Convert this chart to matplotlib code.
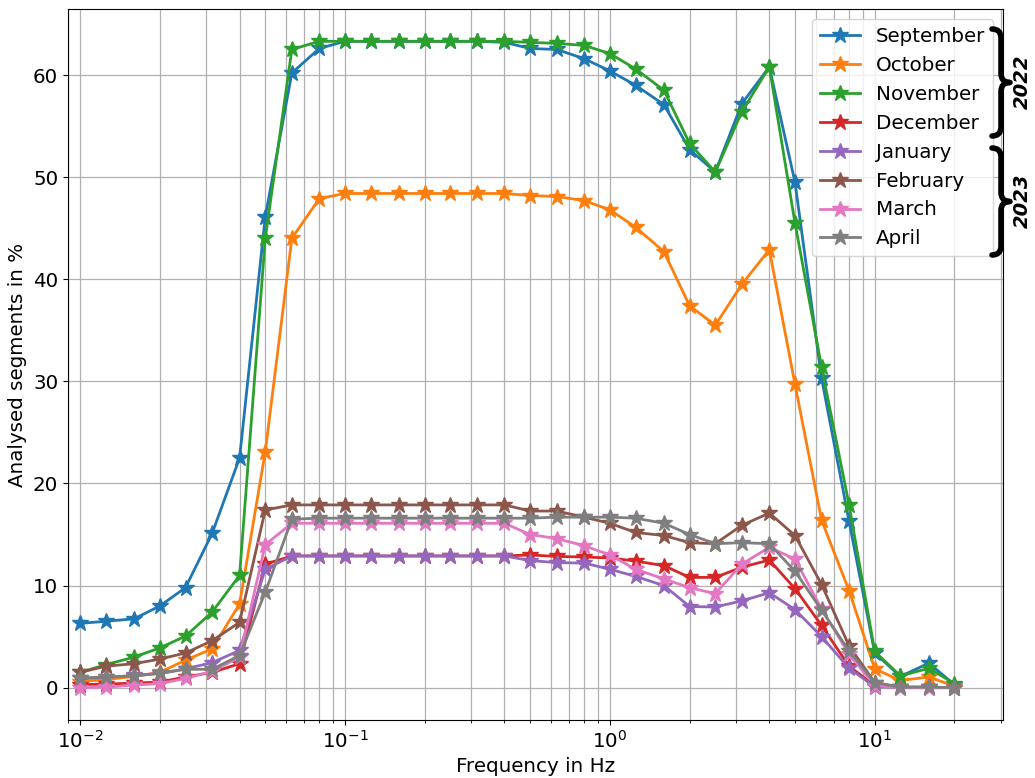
import matplotlib
matplotlib.use("Agg")
import matplotlib.pyplot as plt
from matplotlib.path import Path
from matplotlib.patches import PathPatch

freqs = [0.01, 0.0125, 0.016, 0.02, 0.025, 0.0315, 0.04, 0.05, 0.063, 0.08,
         0.1, 0.125, 0.16, 0.2, 0.25, 0.315, 0.4, 0.5, 0.63, 0.8,
         1.0, 1.25, 1.6, 2.0, 2.5, 3.15, 4.0, 5.0, 6.3, 8.0,
         10.0, 12.5, 16.0, 20.0]

september = [6.3, 6.5, 6.75, 8.0, 9.8, 15.1, 22.5, 46.1, 60.2, 62.6,
             63.3, 63.3, 63.3, 63.3, 63.3, 63.3, 63.2, 62.6, 62.5, 61.6,
             60.4, 59.0, 57.1, 52.7, 50.5, 57.2, 60.8, 49.5, 30.3, 16.3,
             3.4, 1.1, 2.4, 0.3]
october = [0.6, 0.8, 1.1, 1.5, 2.7, 3.8, 8.2, 23.1, 44.0, 47.9,
           48.4, 48.4, 48.4, 48.4, 48.4, 48.4, 48.4, 48.2, 48.1, 47.7,
           46.8, 45.1, 42.7, 37.4, 35.5, 39.5, 42.9, 29.7, 16.4, 9.5,
           1.85, 0.7, 1.05, 0.15]
november = [1.5, 2.25, 3.0, 3.9, 5.05, 7.4, 11.0, 44.0, 62.5, 63.3,
            63.3, 63.3, 63.3, 63.3, 63.3, 63.3, 63.3, 63.2, 63.1, 62.9,
            62.1, 60.6, 58.5, 53.3, 50.5, 56.4, 60.8, 45.5, 31.4, 17.9,
            3.55, 1.15, 1.9, 0.4]
december = [0.3, 0.35, 0.45, 0.55, 1.05, 1.5, 2.35, 12.1, 12.9, 12.9,
            12.9, 12.9, 12.9, 12.9, 12.9, 12.9, 12.9, 13.0, 12.85, 12.8,
            12.7, 12.4, 11.95, 10.8, 10.8, 11.8, 12.5, 9.7, 6.1, 2.1,
            0.2, 0.05, 0.05, 0.0]
january = [0.9, 1.0, 1.2, 1.4, 1.85, 2.45, 3.65, 11.6, 12.9, 12.9,
           12.9, 12.9, 12.9, 12.9, 12.9, 12.9, 12.9, 12.45, 12.25, 12.2,
           11.6, 10.9, 10.0, 7.95, 7.9, 8.5, 9.3, 7.65, 5.0, 1.9,
           0.1, 0.0, 0.0, 0.0]
february = [1.5, 2.1, 2.35, 2.8, 3.4, 4.6, 6.4, 17.4, 17.9, 17.9,
            17.9, 17.9, 17.9, 17.9, 17.9, 17.9, 17.9, 17.3, 17.3, 16.7,
            16.1, 15.2, 14.9, 14.2, 14.1, 15.9, 17.1, 14.9, 10.1, 4.1,
            0.5, 0.05, 0.05, 0.0]
march = [0.0, 0.05, 0.25, 0.4, 0.9, 1.6, 3.0, 14.0, 16.1, 16.1,
         16.1, 16.1, 16.1, 16.1, 16.1, 16.1, 16.1, 15.0, 14.6, 13.9,
         13.0, 11.6, 10.65, 9.8, 9.2, 12.1, 13.75, 12.6, 7.7, 3.3,
         0.2, 0.0, 0.0, 0.0]
april = [0.95, 1.05, 1.15, 1.4, 1.8, 1.8, 3.15, 9.35, 16.5, 16.6,
         16.6, 16.6, 16.6, 16.6, 16.6, 16.6, 16.6, 16.6, 16.7, 16.7,
         16.7, 16.6, 16.1, 15.0, 14.1, 14.2, 14.1, 11.4, 7.6, 3.6,
         0.5, 0.05, 0.05, 0.0]

months = ["September", "October", "November", "December",
          "January", "February", "March", "April"]
series = [september, october, november, december,
          january, february, march, april]
year_labels = ["2022", "2023"]

W, H = 1035, 778
FS = 14.3
fig = plt.figure(figsize=(W / 100, H / 100), dpi=100)
ax = fig.add_axes([68 / W, 1 - 720 / H, (1003 - 68) / W, (720 - 9) / H])

for name, vals in zip(months, series):
    ax.plot(freqs, vals, marker="*", markersize=12, linewidth=2, label=name)

ax.set_xscale("log")
ax.set_xlim(0.009, 30.5)
ax.grid(True, which="both", color="#b0b0b0", linewidth=0.9)
ax.tick_params(labelsize=FS)
ax.set_xlabel("Frequency in Hz", fontsize=FS)
ax.set_ylabel("Analysed segments in %", fontsize=FS)
ax.legend(loc="upper right", fontsize=FS)


def brace(x0, ytop, ybot, w):
    xm = x0 + w / 2
    x1 = x0 + w
    ymid = (ytop + ybot) / 2
    r = w / 2
    pts = [(x0, ytop), (xm, ytop), (xm, ytop + r), (xm, ymid - r),
           (xm, ymid), (x1, ymid), (xm, ymid), (xm, ymid + r),
           (xm, ybot - r), (xm, ybot), (x0, ybot)]
    codes = [Path.MOVETO, Path.CURVE3, Path.CURVE3, Path.LINETO,
             Path.CURVE3, Path.CURVE3, Path.CURVE3, Path.CURVE3,
             Path.LINETO, Path.CURVE3, Path.CURVE3]
    verts = [(x / W, 1 - y / H) for x, y in pts]
    p = PathPatch(Path(verts, codes), transform=fig.transFigure,
                  fill=False, linewidth=4, capstyle="round",
                  joinstyle="round", color="black")
    fig.add_artist(p)


brace(992, 29, 136, 18)
brace(992, 148, 255, 18)
fig.text(1022 / W, 1 - 82 / H, year_labels[0], rotation=90, fontsize=14,
         fontweight="bold", fontstyle="italic", ha="center", va="center")
fig.text(1022 / W, 1 - 201 / H, year_labels[1], rotation=90, fontsize=14,
         fontweight="bold", fontstyle="italic", ha="center", va="center")

fig.savefig("out.png", dpi=100)
